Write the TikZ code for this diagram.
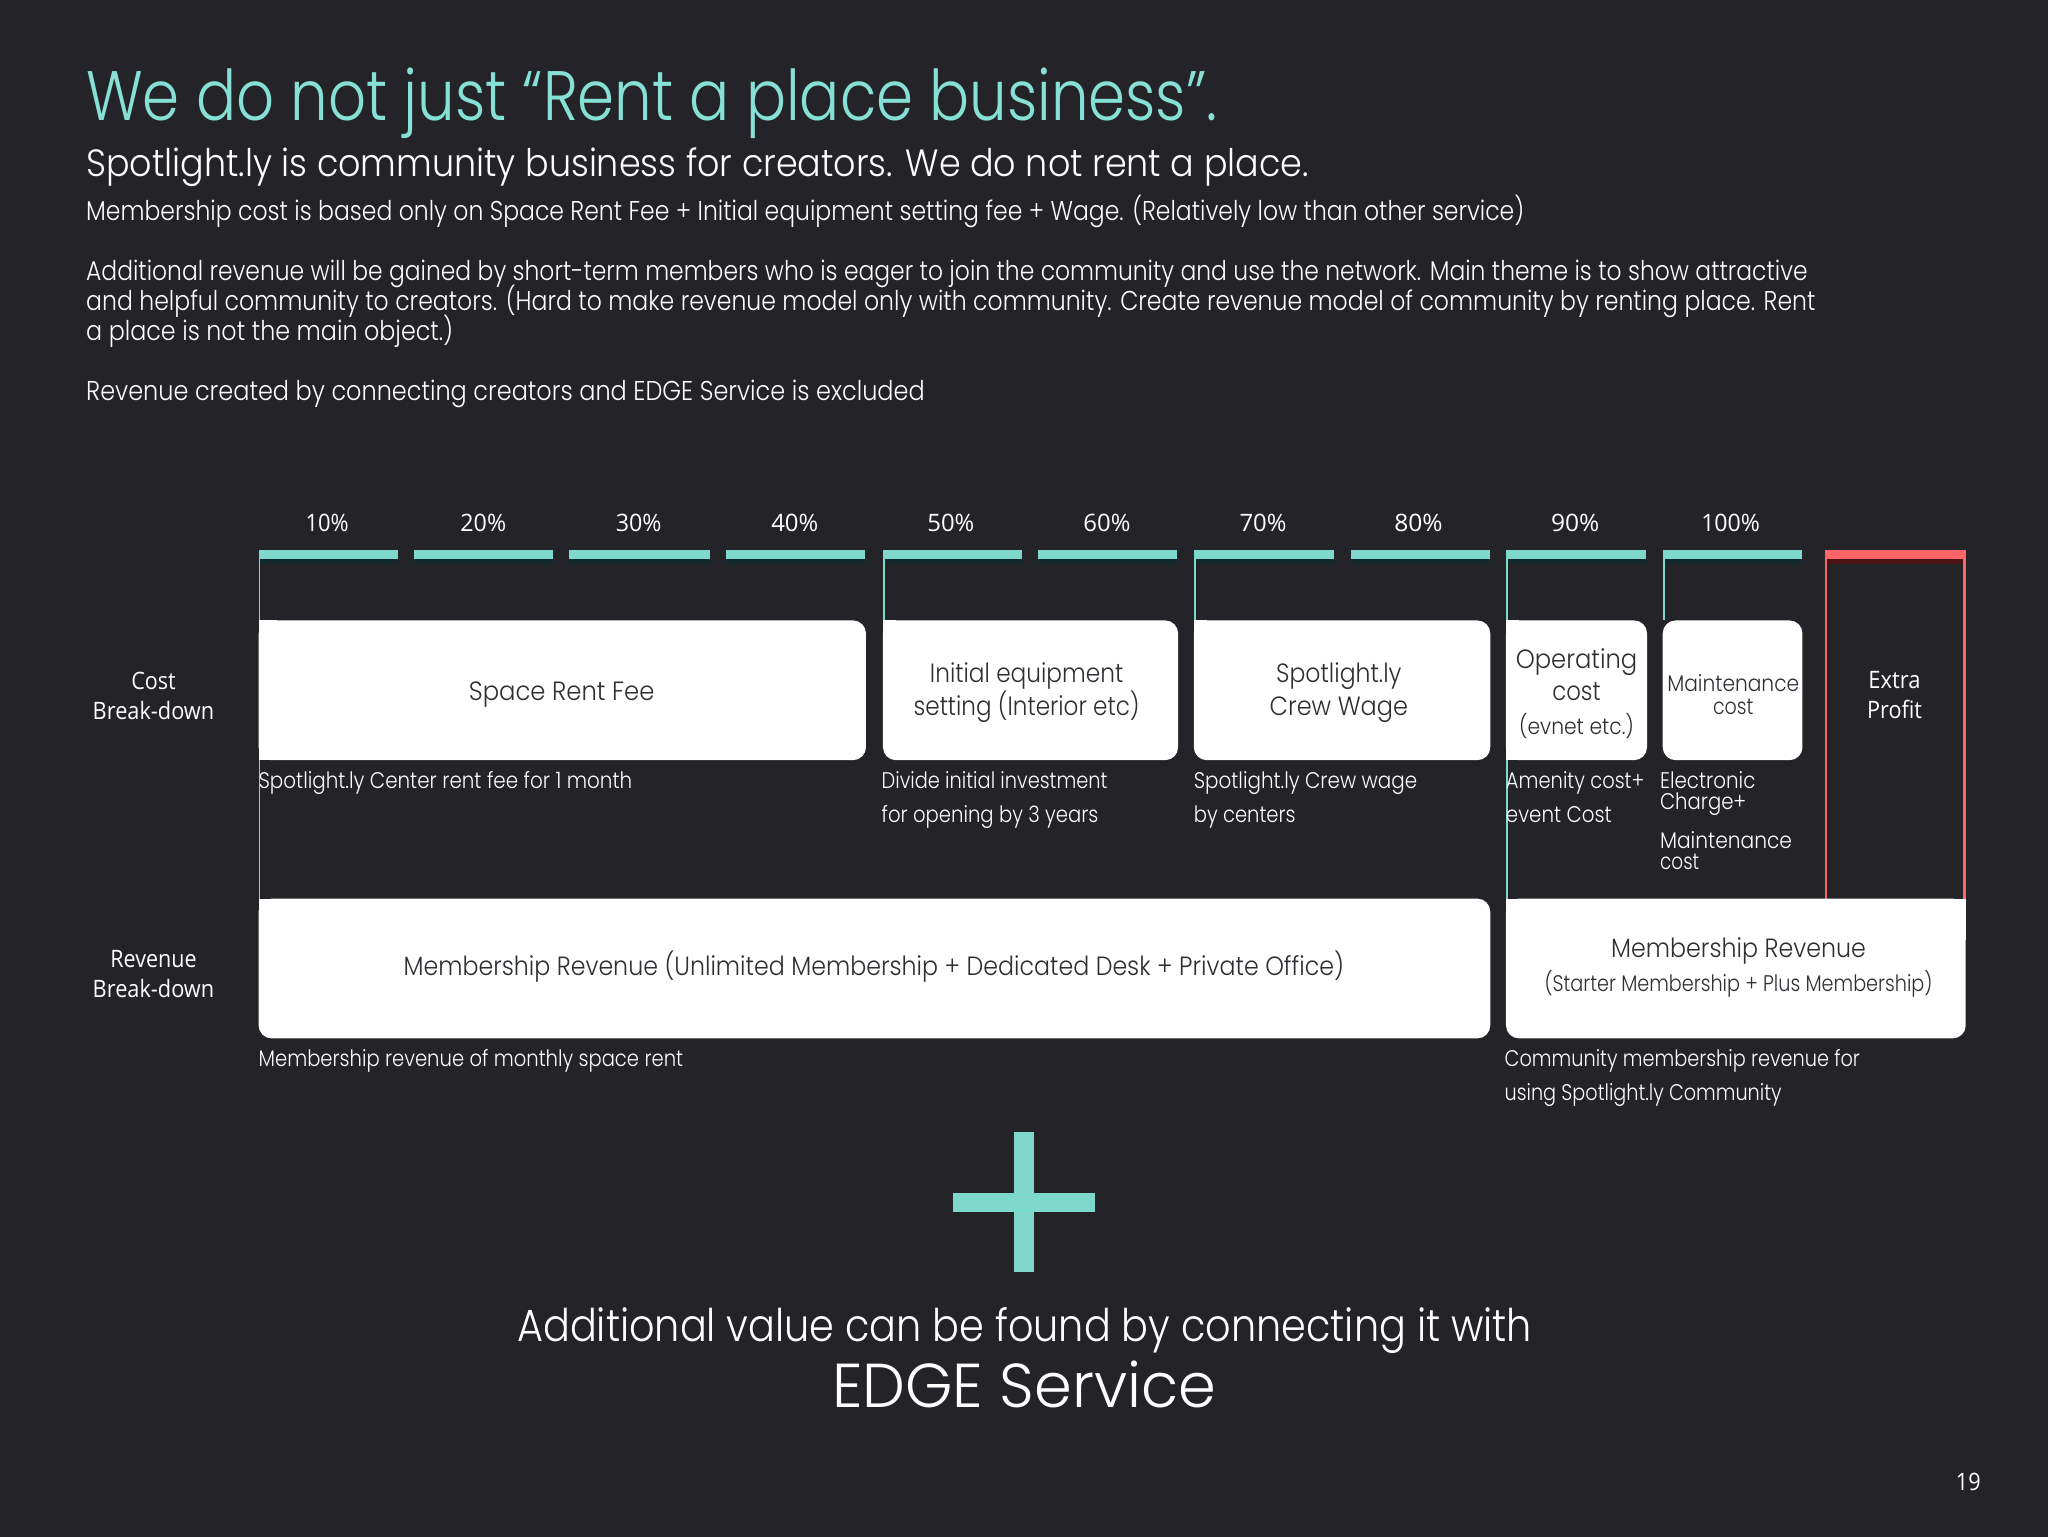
\documentclass[tikz,border=0pt]{standalone}
\usepackage{graphicx}
\usepackage{fontspec}
\setmainfont{Poppins}[UprightFont=* Light]
\newfontfamily\labfont{Open Sans}
\definecolor{bg}{HTML}{232328}
\definecolor{teal}{HTML}{7FD8CC}
\definecolor{tealtitle}{HTML}{86E0D6}
\definecolor{tealshade}{HTML}{12292C}
\definecolor{redbar}{HTML}{FF6468}
\definecolor{redshade}{HTML}{4A1414}
\definecolor{ink}{HTML}{2E2F33}
\newcommand\fw[2]{\setbox0=\hbox{#2}\pgfmathparse{#1*0.653061/\the\wd0}\scalebox{\pgfmathresult}[1]{\box0}}
% \tx[style]{name}{x}{y}{width}{anchor}{text}
\newcommand\tx[7][]{\node[txt,#1,anchor=#6] (#2) at (#3,{#4+0.8}) {\fw{#5}{#7}};}
\tikzset{
  txt/.style={inner sep=0pt,outer sep=0pt,text=white},
  ttl/.style={text=tealtitle,font=\fontsize{35}{35}\selectfont},
  subt/.style={font=\fontsize{19}{19}\selectfont},
  para/.style={font=\fontsize{13.6}{14}\selectfont},
  small/.style={font=\fontsize{11.3}{12}\selectfont},
  boxt/.style={text=ink,font=\fontsize{13.2}{14}\selectfont},
  boxs/.style={text=ink,font=\fontsize{11.3}{12}\selectfont},
  lab/.style={font=\labfont\fontsize{12}{12}\selectfont},
  barnode/.style={inner sep=0pt,outer sep=0pt,draw=none,minimum height=4.7pt,anchor=north west},
  shade/.style={fill=tealshade,draw=none},
  whitefill/.style={fill=white,draw=none},
  roundbox/.style={fill=white,draw=none,rounded corners=6.5pt},
  vline/.style={draw=teal,line width=0.9pt},
  rline/.style={draw=redbar,line width=1.2pt},
}
\begin{document}
\begin{tikzpicture}[x=0.653061pt,y=-0.653061pt]
\useasboundingbox (0,0) rectangle (1568,1176);
\fill[bg] (-5,-5) rectangle (1573,1181);
% header
\tx[ttl]{title}{66}{91.2}{866}{base west}{We do not just “Rent a place business”.}
\tx[subt]{subtitle}{66}{134.2}{936}{base west}{Spotlight.ly is community business for creators. We do not rent a place.}
\tx[para]{p1}{66}{168}{1101}{base west}{Membership cost is based only on Space Rent Fee + Initial equipment setting fee + Wage. (Relatively low than other service)}
\tx[para]{p2}{66}{214}{1318}{base west}{Additional revenue will be gained by short-term members who is eager to join the community and use the network. Main theme is to show attractive}
\tx[para]{p3}{66}{237}{1324}{base west}{and helpful community to creators. (Hard to make revenue model only with community. Create revenue model of community by renting place. Rent}
\tx[para]{p4}{66}{260}{281}{base west}{a place is not the main object.)}
\tx[para]{p5}{66}{306}{642}{base west}{Revenue created by connecting creators and EDGE Service is excluded}
% bars
\foreach \a/\b/\c/\d/\l/\w in {198/305/250.5/a/10/33,317/424/370/b/20/35,436/544/489/c/30/35,556/663/608.5/d/40/36,676/783/728/e/50/36,795/902/847.5/f/60/36,914/1022/967/g/70/36,1034/1141/1086/h/80/37,1153/1261/1206/i/90/37,1273/1380/1325/j/100/45}{
  \fill[shade] (\a,428) rectangle (\b,432);
  \node[barnode,fill=teal,minimum width=\b*0.653061pt-\a*0.653061pt-0.4pt] (bar\d) at (\a,421) {};
  \tx[lab]{pct\d}{\c}{406.5}{\w}{base}{\l\%}
}
\fill[redshade] (1397,428) rectangle (1505,432);
\node[barnode,fill=redbar,minimum width=70.5pt] (barx) at (1397,421) {};
% vertical guides
\coordinate (va) at (198,688);
\coordinate (ve) at (676,475);
\draw[vline] ([xshift=.45pt]bara.south west) -- ([xshift=.45pt]bara.south west |- va);
\draw[vline] ([xshift=.45pt]bare.south west) -- ([xshift=.45pt]bare.south west |- ve);
\draw[vline] ([xshift=.45pt]barg.south west) -- ([xshift=.45pt]barg.south west |- ve);
\draw[vline] ([xshift=.45pt]bari.south west) -- ([xshift=.45pt]bari.south west |- va);
\draw[vline] ([xshift=.45pt]barj.south west) -- ([xshift=.45pt]barj.south west |- ve);
\draw[rline] ([xshift=.6pt]barx.north west) -- ([xshift=.6pt]barx.north west |- va);
\draw[rline] ([xshift=-.6pt]barx.north east) -- ([xshift=-.6pt]barx.north east |- va);
% cost boxes
\fill[roundbox] (198,475) rectangle (663,582);
\fill[whitefill] (198,475) rectangle (212,582);
\fill[roundbox] (676,475) rectangle (902,582);
\fill[whitefill] (676,475) rectangle (686,500);
\fill[roundbox] (914,475) rectangle (1141,582);
\fill[whitefill] (914,475) rectangle (924,500);
\fill[roundbox] (1153,475) rectangle (1261,582);
\fill[whitefill] (1153,475) rectangle (1163,582);
\fill[roundbox] (1273,475) rectangle (1380,582);
\tx[boxt]{space}{430}{535.5}{142}{base}{Space Rent Fee}
\tx[boxt]{init1}{786}{522}{148}{base}{Initial equipment}
\tx[boxt]{init2}{786}{547}{173}{base}{setting (Interior etc)}
\tx[boxt]{crew1}{1025}{522}{96}{base}{Spotlight.ly}
\tx[boxt]{crew2}{1025}{547}{106}{base}{Crew Wage}
\tx[boxt]{op1}{1207}{511}{93}{base}{Operating}
\tx[boxt]{op2}{1207}{535.5}{37}{base}{cost}
\tx[boxs]{op3}{1207}{561.5}{88}{base}{(evnet etc.)}
\tx[boxs]{mt1}{1327}{529}{101}{base}{Maintenance}
\tx[boxs]{mt2}{1327}{546}{31}{base}{cost}
\tx[lab]{ex1}{1450.5}{526}{40}{base}{Extra}
\tx[lab]{ex2}{1450.5}{549}{42}{base}{Profit}
% notes
\tx[small]{n1}{198}{603}{286}{base west}{Spotlight.ly Center rent fee for 1 month}
\tx[small]{n2}{675}{603}{173}{base west}{Divide initial investment}
\tx[small]{n3}{675}{629}{166}{base west}{for opening by 3 years}
\tx[small]{n4}{914}{603}{171}{base west}{Spotlight.ly Crew wage}
\tx[small]{n5}{914}{629}{78}{base west}{by centers}
\tx[small]{n6}{1153}{603}{106}{base west}{Amenity cost+}
\tx[small]{n7}{1153}{629}{81}{base west}{event Cost}
\tx[small]{n8}{1271}{603}{73}{base west}{Electronic}
\tx[small]{n9}{1271}{619}{66}{base west}{Charge+}
\tx[small]{n10}{1271}{649}{101}{base west}{Maintenance}
\tx[small]{n11}{1271}{665}{30}{base west}{cost}
% side labels
\tx[lab]{cb1}{117.5}{527}{34}{base}{Cost}
\tx[lab]{cb2}{117.5}{550}{93}{base}{Break-down}
\tx[lab]{rb1}{117.5}{740}{66}{base}{Revenue}
\tx[lab]{rb2}{117.5}{763}{93}{base}{Break-down}
% revenue boxes
\fill[roundbox] (198,688) rectangle (1141,795);
\fill[whitefill] (198,688) rectangle (212,720);
\fill[roundbox] (1153,688) rectangle (1505,795);
\fill[whitefill] (1153,688) rectangle (1505,720);
\tx[boxt]{rv1}{669}{746}{720}{base}{Membership Revenue (Unlimited Membership + Dedicated Desk + Private Office)}
\tx[boxt]{rv2}{1331}{732}{195}{base}{Membership Revenue}
\tx[boxs]{rv3}{1331}{758}{297}{base}{(Starter Membership + Plus Membership)}
\tx[small]{n12}{198}{816}{325}{base west}{Membership revenue of monthly space rent}
\tx[small]{n13}{1152}{816}{272}{base west}{Community membership revenue for}
\tx[small]{n14}{1152}{842}{212}{base west}{using Spotlight.ly Community}
% plus
\fill[teal] (776,867) rectangle (792,974);
\fill[teal] (730,913) rectangle (838,928);
% bottom
\tx[subt,font=\fontsize{22.5}{23}\selectfont]{add}{784.5}{1026}{777}{base}{Additional value can be found by connecting it with}
\tx[ttl,text=white,font=\fontsize{31}{31}\selectfont]{edge}{784}{1076.5}{294}{base}{EDGE Service}
\tx[lab]{page}{1507}{1140.5}{19}{base}{19}
\end{tikzpicture}
\end{document}
